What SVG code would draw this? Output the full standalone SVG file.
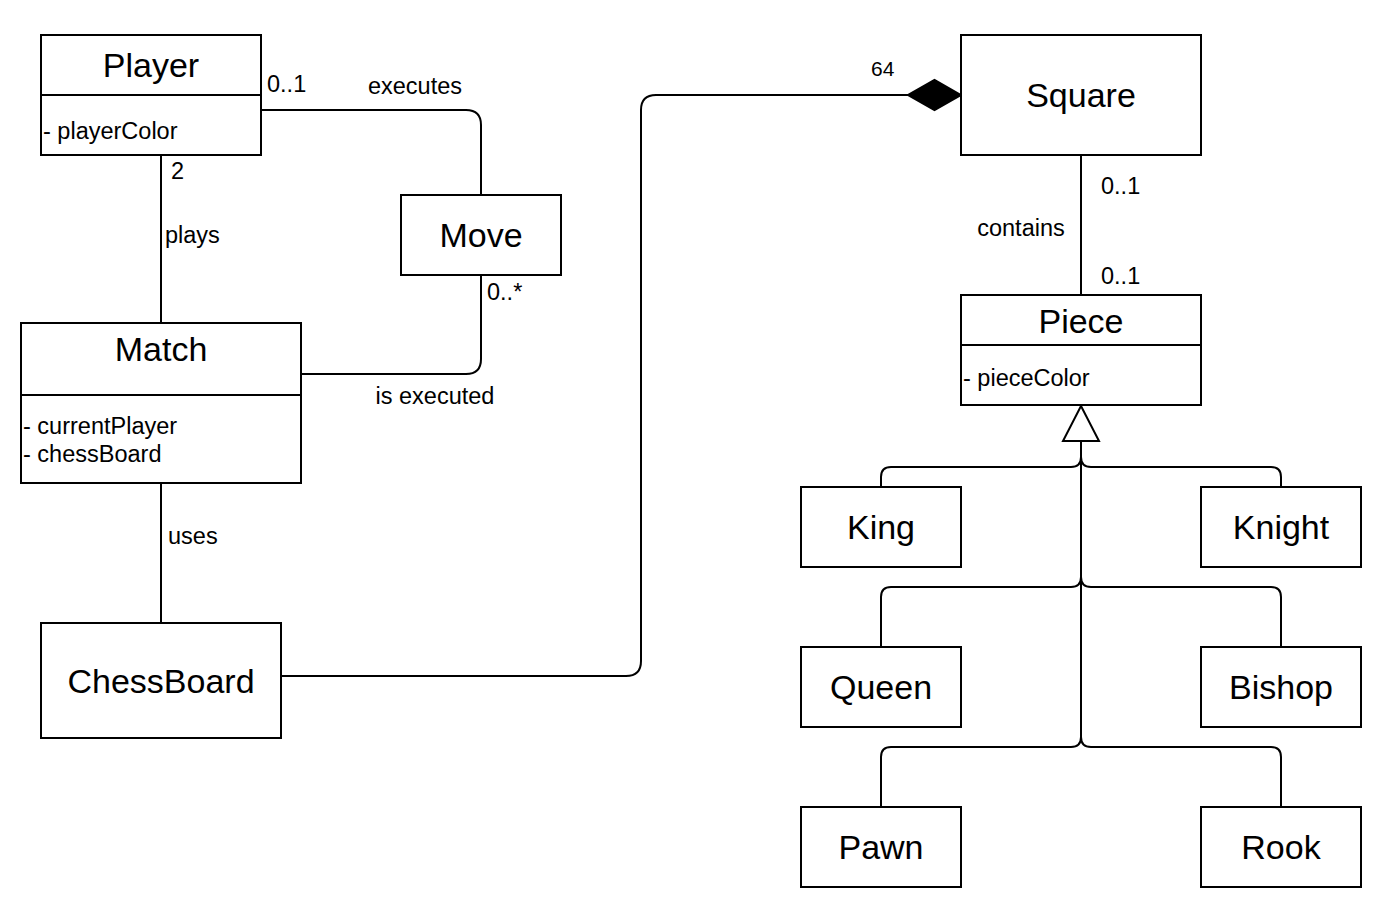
<svg xmlns="http://www.w3.org/2000/svg" width="1382" height="910" viewBox="0 0 1382 910">
<style>
  .box { fill: #ffffff; stroke: #000000; stroke-width: 2; }
  .div { stroke: #000000; stroke-width: 2; }
  .edge { fill: none; stroke: #000000; stroke-width: 2; }
  .title { font-family: "Liberation Sans", Arial, sans-serif; font-size: 34px; fill: #000; text-anchor: middle; }
  .attr { font-family: "Liberation Sans", Arial, sans-serif; font-size: 23.5px; fill: #000; }
  .lbl { font-family: "Liberation Sans", Arial, sans-serif; font-size: 23.5px; fill: #000; }
  .mid { text-anchor: middle; }
</style>
<rect x="0" y="0" width="1382" height="910" fill="#ffffff"/>

<g id="connectors">
  <!-- Player - Move -->
  <path class="edge" d="M261,110 L466,110 Q481,110 481,125 L481,195"/>
  <!-- Move - Match -->
  <path class="edge" d="M481,275 L481,359 Q481,374 466,374 L301,374"/>
  <!-- Player - Match -->
  <path class="edge" d="M161,155 L161,323"/>
  <!-- Match - ChessBoard -->
  <path class="edge" d="M161,483 L161,623"/>
  <!-- ChessBoard - Square (composition) -->
  <path class="edge" d="M281,676 L626,676 Q641,676 641,661 L641,110 Q641,95 656,95 L908,95"/>
  <polygon points="961,95 934.5,80 908,95 934.5,110" fill="#000" stroke="#000" stroke-width="2"/>
  <!-- Square - Piece -->
  <path class="edge" d="M1081,155 L1081,295"/>
  <!-- Generalization edges -->
  <path class="edge" d="M881,487 L881,477 Q881,467 891,467 L1071,467 Q1081,467 1081,457 L1081,441"/>
  <path class="edge" d="M1281,487 L1281,477 Q1281,467 1271,467 L1091,467 Q1081,467 1081,457 L1081,441"/>
  <path class="edge" d="M881,647 L881,597 Q881,587 891,587 L1071,587 Q1081,587 1081,577 L1081,441"/>
  <path class="edge" d="M1281,647 L1281,597 Q1281,587 1271,587 L1091,587 Q1081,587 1081,577 L1081,441"/>
  <path class="edge" d="M881,807 L881,757 Q881,747 891,747 L1071,747 Q1081,747 1081,737 L1081,441"/>
  <path class="edge" d="M1281,807 L1281,757 Q1281,747 1271,747 L1091,747 Q1081,747 1081,737 L1081,441"/>
  <polygon points="1081,406 1063,441 1099,441" fill="#ffffff" stroke="#000" stroke-width="2"/>

  <!-- labels -->
  <text class="lbl" x="267" y="92">0..1</text>
  <text class="lbl mid" x="415" y="94">executes</text>
  <text class="lbl" x="171" y="179">2</text>
  <text class="lbl" x="165" y="243">plays</text>
  <text class="lbl" x="487" y="300">0..*</text>
  <text class="lbl mid" x="435" y="404">is executed</text>
  <text class="lbl" x="168" y="544">uses</text>
  <text class="lbl" x="871" y="76" style="font-size:21px">64</text>
  <text class="lbl" x="1101" y="194">0..1</text>
  <text class="lbl mid" x="1021" y="236">contains</text>
  <text class="lbl" x="1101" y="284">0..1</text>
</g>

<g id="player">
  <rect class="box" x="41" y="35" width="220" height="120"/>
  <line class="div" x1="41" y1="95" x2="261" y2="95"/>
  <text class="title" x="151" y="77">Player</text>
  <text class="attr" x="43" y="139">- playerColor</text>
</g>

<g id="move">
  <rect class="box" x="401" y="195" width="160" height="80"/>
  <text class="title" x="481" y="247">Move</text>
</g>

<g id="match">
  <rect class="box" x="21" y="323" width="280" height="160"/>
  <line class="div" x1="21" y1="395" x2="301" y2="395"/>
  <text class="title" x="161" y="361">Match</text>
  <text class="attr" x="23" y="434">- currentPlayer</text>
  <text class="attr" x="23" y="462">- chessBoard</text>
</g>

<g id="chessboard">
  <rect class="box" x="41" y="623" width="240" height="115"/>
  <text class="title" x="161" y="693">ChessBoard</text>
</g>

<g id="square">
  <rect class="box" x="961" y="35" width="240" height="120"/>
  <text class="title" x="1081" y="107">Square</text>
</g>

<g id="piece">
  <rect class="box" x="961" y="295" width="240" height="110"/>
  <line class="div" x1="961" y1="345" x2="1201" y2="345"/>
  <text class="title" x="1081" y="333">Piece</text>
  <text class="attr" x="963" y="386">- pieceColor</text>
</g>

<g id="king">
  <rect class="box" x="801" y="487" width="160" height="80"/>
  <text class="title" x="881" y="539">King</text>
</g>
<g id="knight">
  <rect class="box" x="1201" y="487" width="160" height="80"/>
  <text class="title" x="1281" y="539">Knight</text>
</g>
<g id="queen">
  <rect class="box" x="801" y="647" width="160" height="80"/>
  <text class="title" x="881" y="699">Queen</text>
</g>
<g id="bishop">
  <rect class="box" x="1201" y="647" width="160" height="80"/>
  <text class="title" x="1281" y="699">Bishop</text>
</g>
<g id="pawn">
  <rect class="box" x="801" y="807" width="160" height="80"/>
  <text class="title" x="881" y="859">Pawn</text>
</g>
<g id="rook">
  <rect class="box" x="1201" y="807" width="160" height="80"/>
  <text class="title" x="1281" y="859">Rook</text>
</g>
</svg>
